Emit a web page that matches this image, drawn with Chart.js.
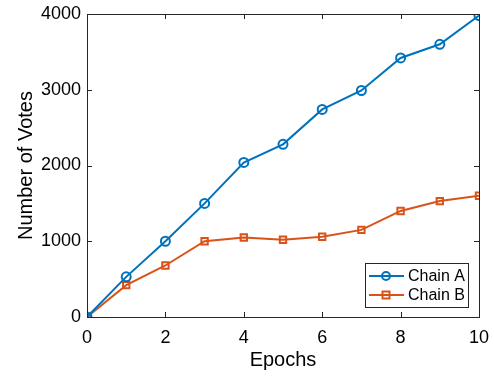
<!DOCTYPE html>
<html>
<head>
<meta charset="utf-8">
<script src="https://cdn.jsdelivr.net/npm/chart.js@4"></script>
<style>
  html, body { margin: 0; padding: 0; background: #fff; }
  #wrap { width: 494px; height: 376px; }
</style>
</head>
<body>
<div id="wrap"><canvas id="chart"></canvas></div>
<script>
// data
const epochs = [0, 1, 2, 3, 4, 5, 6, 7, 8, 9, 10];
const chainA = [0, 530, 1000, 1500, 2040, 2280, 2740, 2990, 3420, 3600, 3980];
const chainB = [0, 420, 680, 1000, 1050, 1020, 1060, 1150, 1400, 1530, 1600];
const xTicks = [0, 2, 4, 6, 8, 10];
const yTicks = [0, 1000, 2000, 3000, 4000];

const BLUE = '#0072BD';
const ORANGE = '#D95319';
const AXIS = '#262626';
const FONT = "'Liberation Sans', Arial, sans-serif";

// MATLAB-style box with inward ticks
const boxPlugin = {
    id: 'box',
    afterDraw(chart) {
        const { ctx, chartArea: a, scales: { x, y } } = chart;
        ctx.save();
        ctx.strokeStyle = AXIS;
        ctx.lineWidth = 1;
        ctx.strokeRect(Math.round(a.left) + 0.5, Math.round(a.top) + 0.5,
            Math.round(a.right - a.left), Math.round(a.bottom - a.top));
        const len = 5;
        ctx.beginPath();
        xTicks.forEach(v => {
            const px = Math.round(x.getPixelForValue(v)) + 0.5;
            ctx.moveTo(px, a.bottom); ctx.lineTo(px, a.bottom - len);
            ctx.moveTo(px, a.top); ctx.lineTo(px, a.top + len);
        });
        yTicks.forEach(v => {
            const py = Math.round(y.getPixelForValue(v)) + 0.5;
            ctx.moveTo(a.left, py); ctx.lineTo(a.left + len, py);
            ctx.moveTo(a.right, py); ctx.lineTo(a.right - len, py);
        });
        ctx.stroke();
        ctx.restore();
    }
};

// legend box in the lower right corner of the axes
const legendPlugin = {
    id: 'boxLegend',
    afterDraw(chart) {
        const { ctx, chartArea: a } = chart;
        const w = 103, h = 44;
        const bx = a.right - 11 - w, by = a.bottom - 10 - h;
        ctx.save();
        ctx.fillStyle = '#fff';
        ctx.fillRect(bx, by, w, h);
        ctx.strokeStyle = AXIS;
        ctx.lineWidth = 1;
        ctx.strokeRect(Math.round(bx) + 0.5, Math.round(by) + 0.5, w, h);
        chart.data.datasets.forEach((ds, i) => {
            const cy = by + 13 + i * 19;
            ctx.strokeStyle = ds.borderColor;
            ctx.lineWidth = 2;
            ctx.beginPath();
            ctx.moveTo(bx + 4, cy); ctx.lineTo(bx + 39, cy);
            ctx.stroke();
            const mx = bx + 21;
            ctx.beginPath();
            if (ds.pointStyle === 'rect') {
                ctx.rect(mx - 3.5, cy - 3.5, 7, 7);
            } else {
                ctx.arc(mx, cy, 4, 0, Math.PI * 2);
            }
            ctx.stroke();
            ctx.fillStyle = '#000';
            ctx.font = '16px ' + FONT;
            ctx.textBaseline = 'middle';
            ctx.fillText(ds.label, bx + 43, cy + 1);
        });
        ctx.restore();
    }
};

new Chart(document.getElementById('chart'), {
    type: 'line',
    data: {
        datasets: [
            {
                label: 'Chain A',
                data: epochs.map((e, i) => ({ x: e, y: chainA[i] })),
                borderColor: BLUE,
                backgroundColor: 'rgba(0,0,0,0)',
                borderWidth: 2,
                pointStyle: 'circle',
                pointRadius: 4.5,
                pointBorderWidth: 2,
                pointBorderColor: BLUE,
                pointBackgroundColor: 'rgba(0,0,0,0)',
                tension: 0
            },
            {
                label: 'Chain B',
                data: epochs.map((e, i) => ({ x: e, y: chainB[i] })),
                borderColor: ORANGE,
                backgroundColor: 'rgba(0,0,0,0)',
                borderWidth: 2,
                pointStyle: 'rect',
                pointRadius: 4.5,
                pointBorderWidth: 2,
                pointBorderColor: ORANGE,
                pointBackgroundColor: 'rgba(0,0,0,0)',
                tension: 0
            }
        ]
    },
    options: {
        responsive: true,
        maintainAspectRatio: false,
        animation: false,
        layout: { padding: { top: 14, right: 15, left: 0, bottom: 0 } },
        plugins: {
            legend: { display: false },
            tooltip: { enabled: false }
        },
        scales: {
            x: {
                type: 'linear',
                min: 0, max: 10,
                afterBuildTicks: s => { s.ticks = xTicks.map(v => ({ value: v })); },
                afterFit: s => { s.height = 59; s.paddingLeft = 0; s.paddingRight = 0; },
                grid: { display: false, drawTicks: false },
                border: { display: false },
                ticks: { color: '#000', padding: 10, font: { size: 18, family: FONT },
                         callback: v => String(v) },
                title: {
                    display: true, text: 'Epochs', color: '#000',
                    font: { size: 20, family: FONT }, padding: { top: 0, bottom: 4 }
                }
            },
            y: {
                min: 0, max: 4000,
                afterBuildTicks: s => { s.ticks = yTicks.map(v => ({ value: v })); },
                afterFit: s => { s.width = 87; s.paddingTop = 0; s.paddingBottom = 0; },
                grid: { display: false, drawTicks: false },
                border: { display: false },
                ticks: { color: '#000', padding: 6, font: { size: 18, family: FONT },
                         callback: v => String(v) },
                title: {
                    display: true, text: 'Number of Votes', color: '#000',
                    font: { size: 20, family: FONT }, padding: { top: 14, bottom: 0 }
                }
            }
        }
    },
    plugins: [boxPlugin, legendPlugin]
});
</script>
</body>
</html>
